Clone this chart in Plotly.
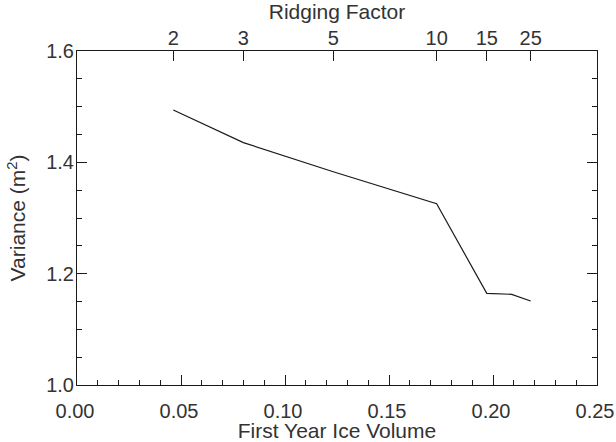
import plotly.graph_objects as go

# Data
ice_volume = [0.0463, 0.0800, 0.1232, 0.1729, 0.1970, 0.2090, 0.2181]
variance = [1.494, 1.4355, 1.383, 1.3256, 1.1647, 1.1629, 1.1508]
ridging_factor = [2, 3, 5, 10, 15, 20, 25]
labelled_ridging = [2, 3, 5, 10, 15, 25]

x_ticks = [0.00, 0.05, 0.10, 0.15, 0.20, 0.25]
y_ticks = [1.0, 1.2, 1.4, 1.6]

top_vals = [v for v, r in zip(ice_volume, ridging_factor) if r in labelled_ridging]
top_text = [str(r) for r in ridging_factor if r in labelled_ridging]

INK = "#1a1a1a"
TICKFONT = dict(family="Liberation Sans", size=20, color="#333333")
TITLEFONT = dict(family="Liberation Sans", size=21, color="#333333")

fig = go.Figure()
fig.add_trace(go.Scatter(x=ice_volume, y=variance, mode="lines",
                         line=dict(color=INK, width=1.2), showlegend=False,
                         hoverinfo="skip"))
fig.add_trace(go.Scatter(x=ice_volume, y=variance, mode="lines", xaxis="x2",
                         line=dict(color="rgba(0,0,0,0)", width=0),
                         showlegend=False, hoverinfo="skip"))

fig.update_layout(
    template="none",
    width=616, height=442,
    margin=dict(l=77, r=19, t=51, b=57, autoexpand=False),
    paper_bgcolor="white", plot_bgcolor="white",
    font=TICKFONT,
    xaxis=dict(range=[0, 0.25], tickvals=x_ticks, tickformat=".2f",
               tickfont=TICKFONT, automargin=False, ticklabeloverflow="allow",
               ticklabelshift=-2,
               ticks="inside", ticklen=10, tickcolor=INK, tickwidth=1,
               minor=dict(ticks="inside", ticklen=5, dtick=0.01, tickcolor=INK,
                          showgrid=False),
               showline=True, linecolor=INK, linewidth=1, mirror=True,
               showgrid=False, zeroline=False, ticklabelstandoff=8,
               title=dict(text="First Year Ice Volume", standoff=8, font=TITLEFONT)),
    xaxis2=dict(range=[0, 0.25], overlaying="x", side="top",
                tickvals=top_vals, ticktext=top_text, tickfont=TICKFONT,
                automargin=False, ticklabeloverflow="allow",
                ticks="inside", ticklen=10, tickcolor=INK, tickwidth=1,
                showgrid=False, zeroline=False, showline=False,
                ticklabelstandoff=1,
                title=dict(text="Ridging Factor", standoff=5, font=TITLEFONT)),
    yaxis=dict(range=[1.0, 1.6], tickvals=y_ticks, tickformat=".1f",
               tickfont=TICKFONT, automargin=False, ticklabeloverflow="allow",
               ticks="inside", ticklen=10, tickcolor=INK, tickwidth=1,
               minor=dict(ticks="inside", ticklen=5, dtick=0.05, tickcolor=INK,
                          showgrid=False),
               showline=True, linecolor=INK, linewidth=1, mirror="ticks",
               showgrid=False, zeroline=False, ticklabelstandoff=-2,
               title=dict(text="Variance (m<sup>2</sup>)", standoff=14, font=TITLEFONT)),
)

fig.write_html("out.html", config={"displayModeBar": False},
               post_script="document.body.style.margin='0';")
